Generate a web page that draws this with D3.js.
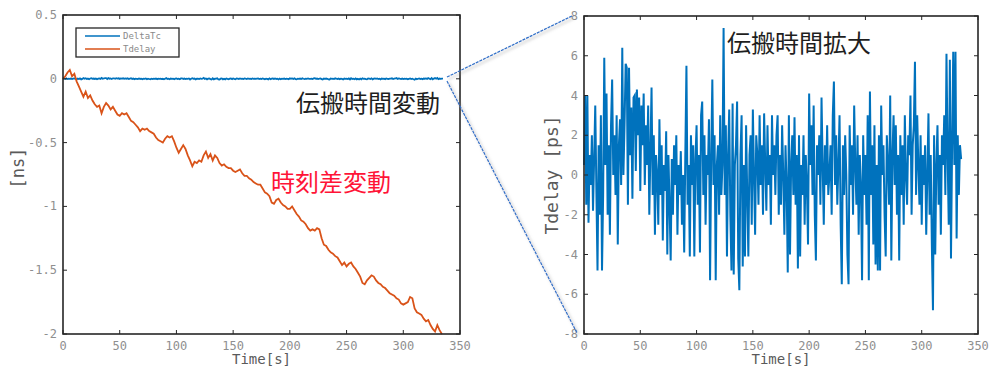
<!DOCTYPE html>
<html>
<head>
<meta charset="utf-8">
<script src="https://cdn.jsdelivr.net/npm/d3@7"></script>
<style>
  body { margin: 0; background: #fff; }
  svg { display: block; }
  .tick-label { font-family: "DejaVu Sans Mono", monospace; font-size: 12px; fill: #8f8f8f; }
  .axis-title { font-family: "DejaVu Sans Mono", monospace; fill: #5a5a5a; }
  .jp { font-family: "Noto Sans CJK JP", sans-serif; font-size: 24px; font-weight: 400; }
</style>
</head>
<body>
<svg id="chart" width="990" height="369"></svg>
<script>
// propagation delay variation, one sample per second [ps]
const delayPs = [
  0.5, 4.0, -1.5, 4.0, -2.4, 1.0, -0.5, 2.0, -1.8, 0.8,
  3.5, -0.8, -4.8, 1.5, -2.0, 3.0, -4.8, -1.0, 5.9, 0.5,
  4.1, -2.0, 1.5, -3.0, 2.5, 4.8, 0.0, 2.0, -1.0, 3.0,
  -3.5, 1.5, 2.8, -0.5, 6.4, 0.0, 2.5, 5.6, 5.4, -1.5,
  5.4, 1.0, 3.4, -1.2, 3.9, 4.0, 0.2, 4.3, 2.0, 3.9,
  -0.8, 3.5, 1.5, 4.1, -0.5, 2.5, 0.5, 3.5, -2.0, 1.2,
  4.4, -1.0, 2.0, -3.0, 1.0, 0.0, -2.5, 2.8, -1.0, 1.5,
  -3.3, 0.5, -0.8, 2.2, -4.0, 1.0, -1.5, -4.3, 0.8, -2.0,
  1.5, -0.5, 2.0, -3.0, 0.5, -1.0, 1.2, -2.5, 0.0, -3.9,
  1.0, 5.5, -1.5, 0.5, -4.1, 2.0, -0.5, 1.5, -4.1, 0.8,
  2.5, -1.5, 1.0, -3.9, 3.0, 3.7, -1.0, 2.0, -2.5, 1.0,
  0.0, 2.8, -5.3, 1.0, 4.8, -0.5, 2.0, -5.3, 0.5, 1.5,
  -2.0, 3.0, -1.0, 0.5, 7.4, -1.0, 2.5, -4.1, 1.0, 3.3,
  -2.0, -4.8, 3.6, -5.0, 0.5, 1.5, 3.7, -4.2, -5.8, 1.0,
  3.0, -4.6, 0.5, -4.1, 2.5, -1.0, -4.1, 1.0, 2.0, -2.5,
  3.3, 0.0, -3.0, 2.0, 1.0, -1.5, 3.0, -0.5, 1.5, -2.0,
  3.1, 0.5, -1.8, 2.5, -0.5, 1.0, -2.5, 3.0, 0.0, 1.5,
  -1.0, 2.0, 3.0, -2.0, 1.0, -1.5, 2.5, 0.0, -3.0, 1.5,
  -0.5, -4.9, 3.0, -4.0, 0.5, 2.0, -1.0, 2.9, -1.5, 1.0,
  -4.7, 2.0, -4.1, 0.5, -1.0, 2.0, -2.5, 1.0, -0.5, -3.5,
  4.1, 0.5, 2.5, -1.0, 3.5, -2.0, -4.3, 1.5, 0.0, 2.0,
  -1.5, 3.9, 0.5, -2.5, 1.5, -0.5, 2.5, -1.0, 0.0, 1.5,
  -2.0, 3.0, 4.7, -0.5, 2.0, -1.5, 0.5, 3.0, -2.5, -5.5,
  1.5, -1.0, 2.0, 0.0, -4.0, -5.5, 2.5, -0.5, 1.5, -2.0,
  3.5, 0.5, -1.5, 2.0, -3.0, 1.0, -0.5, -5.3, 2.0, -1.0,
  1.0, -2.5, 3.0, -5.3, 4.2, -1.0, 1.5, -3.5, 2.5, -4.5,
  0.5, -4.8, 2.0, -4.8, 3.5, 0.0, 1.5, -2.0, -4.1, 2.0,
  0.5, -1.5, 4.0, -4.3, 1.0, 3.0, -0.5, 2.5, -2.0, 1.0,
  -4.3, 2.0, -1.0, 1.5, -2.5, 3.0, 0.0, -1.5, 2.0, 1.0,
  4.0, -2.0, 1.5, 2.5, 5.7, -1.0, 3.0, 0.5, -1.5, 2.0,
  -2.5, 1.0, -0.5, 1.5, -3.0, 0.0, 3.1, -2.0, 1.0, -3.5,
  -6.8, 2.0, -4.0, 0.5, 2.5, -1.5, 1.0, -3.0, 2.0, 0.5,
  3.0, -1.0, 6.1, 1.0, -2.5, 5.8, -4.2, 1.5, 6.2, 0.5,
  6.2, -3.2, 2.0, -1.0, 1.5, 0.8
];

// clock offset variation, one sample every 2 s [ns]
const offsetNs = [
  0.0, 0.02, 0.05, 0.07, 0.02, 0.04, -0.02, -0.06, -0.1, -0.14,
  -0.1, -0.15, -0.13, -0.17, -0.2, -0.22, -0.21, -0.27, -0.22, -0.19,
  -0.21, -0.24, -0.22, -0.25, -0.28, -0.29, -0.27, -0.28, -0.27, -0.3,
  -0.33, -0.34, -0.36, -0.38, -0.41, -0.39, -0.4, -0.39, -0.41, -0.42,
  -0.43, -0.46, -0.48, -0.49, -0.5, -0.47, -0.45, -0.46, -0.45, -0.49,
  -0.54, -0.58, -0.55, -0.52, -0.55, -0.6, -0.64, -0.685, -0.65, -0.66,
  -0.64, -0.65, -0.6, -0.57, -0.62, -0.59, -0.64, -0.6, -0.62, -0.66,
  -0.68, -0.67, -0.69, -0.7, -0.7, -0.72, -0.73, -0.72, -0.71, -0.74,
  -0.76, -0.76, -0.78, -0.79, -0.81, -0.82, -0.83, -0.83, -0.86, -0.89,
  -0.9, -0.92, -0.97, -0.98, -0.95, -0.94, -0.97, -0.99, -1.0, -1.02,
  -1.02, -1.0, -1.03, -1.06, -1.08, -1.11, -1.12, -1.14, -1.17, -1.19,
  -1.18, -1.19, -1.17, -1.18, -1.25, -1.3, -1.31, -1.34, -1.36, -1.37,
  -1.39, -1.4, -1.43, -1.46, -1.44, -1.47, -1.45, -1.44, -1.47, -1.49,
  -1.52, -1.55, -1.6, -1.61, -1.58, -1.56, -1.54, -1.55, -1.58, -1.6,
  -1.61, -1.63, -1.64, -1.66, -1.68, -1.69, -1.7, -1.72, -1.73, -1.76,
  -1.77, -1.76, -1.75, -1.71, -1.72, -1.8, -1.83, -1.84, -1.85, -1.88,
  -1.9, -1.89, -1.93, -1.96, -1.98, -1.93, -1.97, -2.0
];

const xTicks = [0, 50, 100, 150, 200, 250, 300, 350];
const leftYTicks = [0.5, 0, -0.5, -1, -1.5, -2];
const rightYTicks = [8, 6, 4, 2, 0, -2, -4, -6, -8];
const legendNames = ["DeltaTc", "Tdelay"];

const BLUE = "#0072bd";
const ORANGE = "#d95319";

const svg = d3.select("#chart");

// shadow filter for the zoom connector lines
const defs = svg.append("defs");
const f = defs.append("filter").attr("id", "shadow").attr("x", "-20%").attr("y", "-20%").attr("width", "140%").attr("height", "140%");
f.append("feDropShadow").attr("dx", 2).attr("dy", 2).attr("stdDeviation", 1.5).attr("flood-color", "#888").attr("flood-opacity", 0.7);

function drawFrame(g, x, y, yTicks, yFmt) {
  const [x0, x1] = x.range();
  const [y0, y1] = y.range();
  const tk = 4;
  // ticks on all four sides, pointing inward
  xTicks.forEach(t => {
    g.append("line").attr("x1", x(t)).attr("x2", x(t)).attr("y1", y0).attr("y2", y0 - tk).attr("stroke", "#262626");
    g.append("line").attr("x1", x(t)).attr("x2", x(t)).attr("y1", y1).attr("y2", y1 + tk).attr("stroke", "#262626");
    g.append("text").attr("class", "tick-label").attr("x", x(t)).attr("y", y0 + 16)
      .attr("text-anchor", "middle").text(t);
  });
  yTicks.forEach(t => {
    g.append("line").attr("x1", x0).attr("x2", x0 + tk).attr("y1", y(t)).attr("y2", y(t)).attr("stroke", "#262626");
    g.append("line").attr("x1", x1).attr("x2", x1 - tk).attr("y1", y(t)).attr("y2", y(t)).attr("stroke", "#262626");
    g.append("text").attr("class", "tick-label").attr("x", x0 - 6).attr("y", y(t) + 4)
      .attr("text-anchor", "end").text(yFmt(t));
  });
  g.append("rect").attr("x", x0).attr("y", y1).attr("width", x1 - x0).attr("height", y0 - y1)
    .attr("fill", "none").attr("stroke", "#262626").attr("stroke-width", 1.6);
  g.append("text").attr("class", "axis-title").attr("x", (x0 + x1) / 2).attr("y", y0 + 30)
    .attr("text-anchor", "middle").style("font-size", "14px").text("Time[s]");
}

// ---- left chart ----
const xL = d3.scaleLinear().domain([0, 350]).range([63, 460]);
const yL = d3.scaleLinear().domain([-2, 0.5]).range([334, 15]);
const gL = svg.append("g");

const tDelay = d3.range(delayPs.length);
const tOffset = d3.range(offsetNs.length).map(i => i * 2);

const lineL = d3.line().x(d => xL(d[0])).y(d => yL(d[1]));
gL.append("path")
  .datum(tDelay.map((t, i) => [t, delayPs[i] / 1000]))
  .attr("d", lineL).attr("fill", "none").attr("stroke", BLUE).attr("stroke-width", 1.8);
gL.append("path")
  .datum(tOffset.map((t, i) => [t, offsetNs[i]]))
  .attr("d", lineL).attr("fill", "none").attr("stroke", ORANGE).attr("stroke-width", 1.8);

drawFrame(gL, xL, yL, leftYTicks, d => d);
gL.append("text").attr("class", "axis-title")
  .attr("transform", "translate(24," + yL(-0.7) + ") rotate(-90)")
  .attr("text-anchor", "middle").style("font-size", "17px").text("[ns]");

// legend
const lg = gL.append("g").attr("transform", "translate(76,28)");
lg.append("rect").attr("width", 103).attr("height", 29).attr("fill", "#fff").attr("stroke", "#262626").attr("stroke-width", 1.3);
[BLUE, ORANGE].forEach((c, i) => {
  lg.append("line").attr("x1", 9).attr("x2", 44).attr("y1", 8 + i * 13).attr("y2", 8 + i * 13)
    .attr("stroke", c).attr("stroke-width", 1.6);
  lg.append("text").attr("x", 47).attr("y", 11 + i * 13)
    .style("font-family", "DejaVu Sans Mono, monospace").style("font-size", "9px").attr("fill", "#8a8a8a")
    .text(legendNames[i]);
});

gL.append("text").attr("class", "jp").attr("x", 296).attr("y", 112).attr("fill", "#1e1e1e").text("伝搬時間変動");
gL.append("text").attr("class", "jp").attr("x", 271).attr("y", 191).attr("fill", "#ff1437").text("時刻差変動");

// ---- right chart ----
const xR = d3.scaleLinear().domain([0, 350]).range([584, 978]);
const yR = d3.scaleLinear().domain([-8, 8]).range([334, 16]);
const gR = svg.append("g");

gR.append("path")
  .datum(tDelay.map((t, i) => [t, delayPs[i]]))
  .attr("d", d3.line().x(d => xR(d[0])).y(d => yR(d[1])))
  .attr("fill", "none").attr("stroke", BLUE).attr("stroke-width", 2);

drawFrame(gR, xR, yR, rightYTicks, d => d);
gR.append("text").attr("class", "axis-title")
  .attr("transform", "translate(558," + yR(0) + ") rotate(-90)")
  .attr("text-anchor", "middle").style("font-size", "18px").text("Tdelay [ps]");

gR.append("text").attr("class", "jp").attr("x", 727).attr("y", 52).attr("fill", "#1e1e1e").text("伝搬時間拡大");

// connectors from the zoomed region to the right chart
const conn = svg.append("g").attr("filter", "url(#shadow)");
[[447, 77, 572, 16], [447, 81, 577, 333]].forEach(s => {
  conn.append("line").attr("x1", s[0]).attr("y1", s[1]).attr("x2", s[2]).attr("y2", s[3])
    .attr("stroke", "#2f6fc8").attr("stroke-width", 1.2).attr("stroke-dasharray", "3,1");
});
</script>
</body>
</html>
